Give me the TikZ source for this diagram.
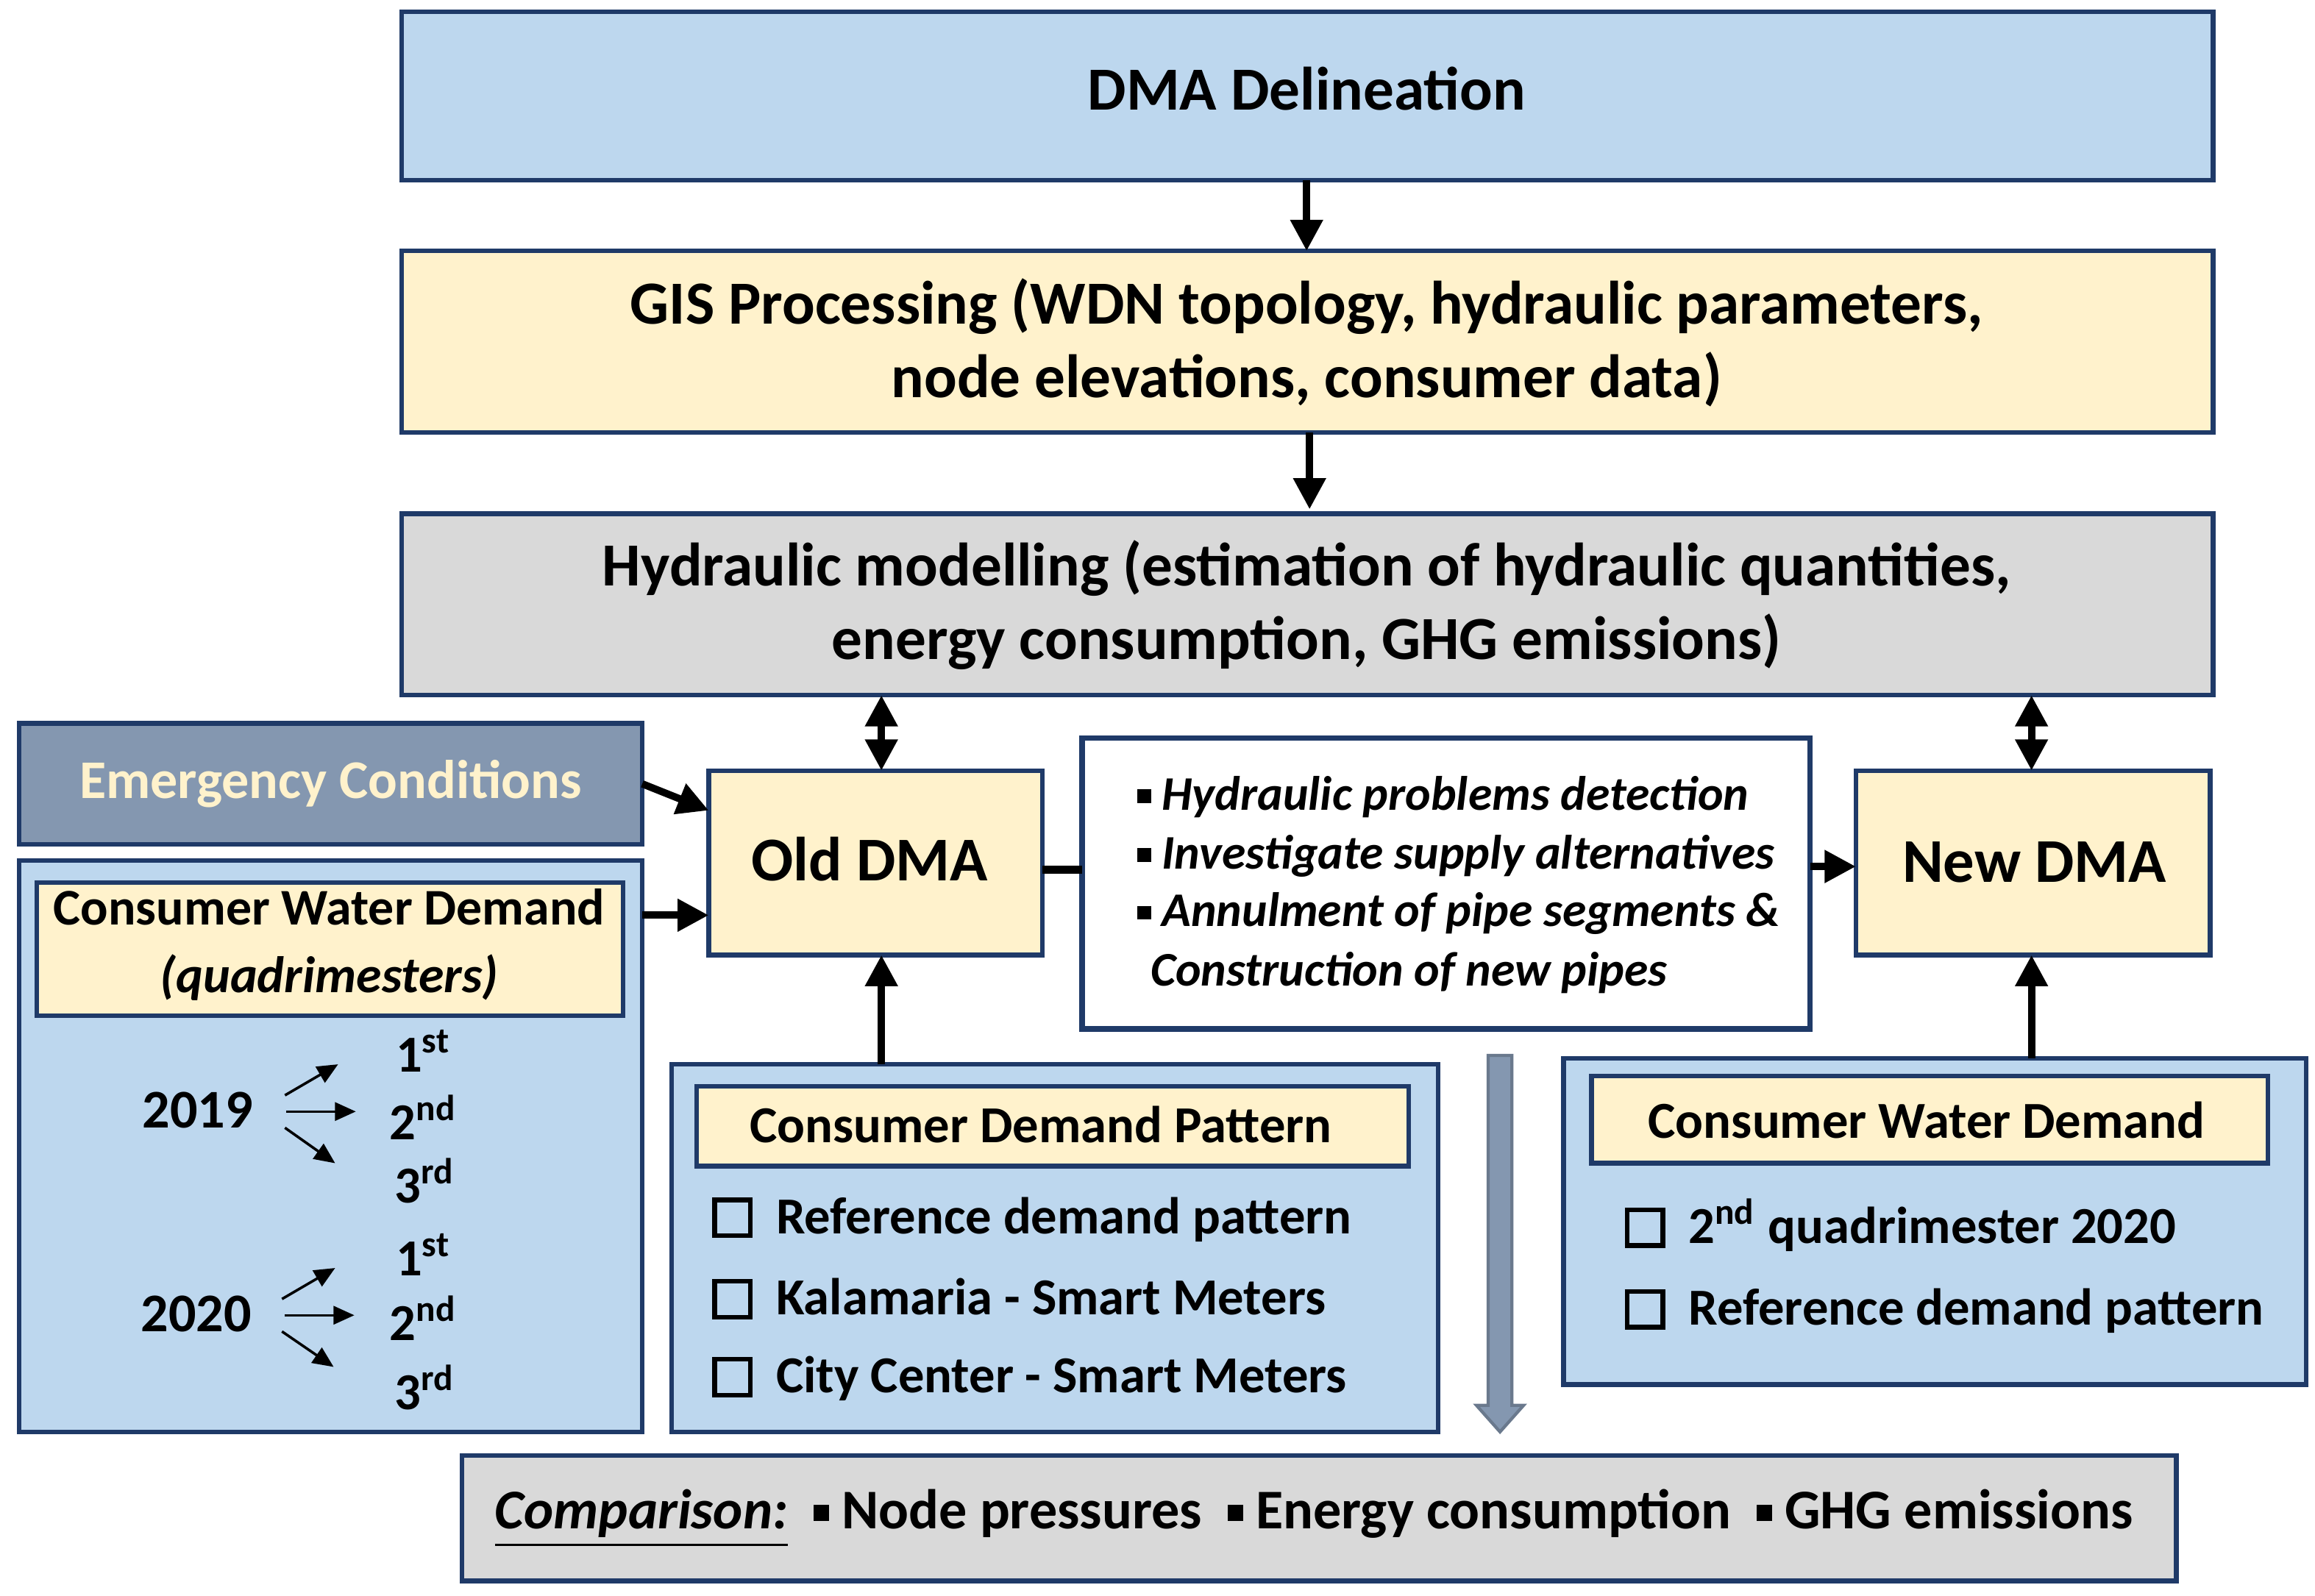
\documentclass[tikz,border=0pt]{standalone}
\usepackage{fontspec}
\setmainfont{Carlito}
\usetikzlibrary{arrows.meta}
\definecolor{nav}{HTML}{1F3A68}
\definecolor{lblue}{HTML}{BDD7EE}
\definecolor{cream}{HTML}{FFF2CC}
\definecolor{gry}{HTML}{D9D9D9}
\definecolor{slate}{HTML}{8497B0}
\newcommand{\sqb}{\rule[0.15em]{0.28em}{0.28em}}
\newcommand{\cbx}{{\setlength{\fboxsep}{0pt}\setlength{\fboxrule}{0.9pt}\fbox{\rule{0pt}{0.6em}\hspace{0.6em}}}}
\begin{document}
\begin{tikzpicture}[x=0.01cm,y=-0.01cm,
 box/.style={draw=nav,line width=0.9pt},
 ar/.style={line width=1.4pt,-{Triangle[length=6pt,width=6pt]}},
 dar/.style={line width=1.4pt,{Triangle[length=6pt,width=6pt]}-{Triangle[length=6pt,width=6pt]}},
 sar/.style={line width=0.5pt,-{Triangle[length=4pt,width=3.5pt]}},
 f10/.style={font=\bfseries\fontsize{10}{12}\selectfont}]
\useasboundingbox (0,0) rectangle (1568,1081);
% boxes
\draw[box,fill=lblue] (272,8) rectangle (1499,122);
\node[font=\bfseries\fontsize{11.8}{14}\selectfont] (dma) at (885,60) {DMA Delineation};
\draw[box,fill=cream] (272,170) rectangle (1499,293);
\node[align=center,font=\bfseries\fontsize{11.8}{14.2}\selectfont] (gis) at (885,232) {GIS Processing (WDN topology, hydraulic parameters,\\node elevations, consumer data)};
\draw[box,fill=gry] (272,348) rectangle (1499,471);
\node[align=center,font=\bfseries\fontsize{11.8}{14.2}\selectfont] (hyd) at (885,410) {Hydraulic modelling (estimation of hydraulic quantities,\\energy consumption, GHG emissions)};
\draw[box,fill=slate] (13,490) rectangle (435,572);
\node[font=\bfseries\fontsize{10.5}{12}\selectfont,text=cream] (em) at (224,531) {Emergency Conditions};
\draw[box,fill=lblue] (13,583) rectangle (435,970);
\draw[box,fill=cream] (25,598) rectangle (422,688);
\node[align=center,font=\fontsize{9.9}{13}\selectfont] (cwd) at (223,640) {\textbf{Consumer Water Demand}\\\textbf{\itshape (quadrimesters)}};
\draw[box,fill=cream] (480,522) rectangle (706,647);
\node[font=\bfseries\fontsize{12}{14}\selectfont] (old) at (589,582) {Old DMA};
\draw[box,line width=1.1pt,fill=white] (733,500) rectangle (1226,697);
\node[font=\bfseries\itshape\fontsize{9.3}{11}\selectfont,anchor=west] (m1) at (758,540) {\sqb\ Hydraulic problems detection};
\node[font=\bfseries\itshape\fontsize{9.3}{11}\selectfont,anchor=west] (m2) at (758,580) {\sqb\ Investigate supply alternatives};
\node[font=\bfseries\itshape\fontsize{9.3}{11}\selectfont,anchor=west] (m3) at (758,619) {\sqb\ Annulment of pipe segments \&};
\node[font=\bfseries\itshape\fontsize{9.3}{11}\selectfont,anchor=west] (m4) at (767,659) {Construction of new pipes};
\draw[box,fill=cream] (1257,522) rectangle (1497,647);
\node[font=\bfseries\fontsize{12}{14}\selectfont] (new) at (1378,584) {New DMA};
% pattern panel
\draw[box,fill=lblue] (455,721) rectangle (974,970);
\draw[box,fill=cream] (472,736) rectangle (954,790);
\node[f10] (cdp) at (705,762) {Consumer Demand Pattern};
\node[f10,anchor=west] (p1) at (470,826) {\cbx\ \ Reference demand pattern};
\node[f10,anchor=west] (p2) at (470,880) {\cbx\ \ Kalamaria - Smart Meters};
\node[f10,anchor=west] (p3) at (470,934) {\cbx\ \ City Center - Smart Meters};
% right panel
\draw[box,fill=lblue] (1059,717) rectangle (1562,938);
\draw[box,fill=cream] (1078,729) rectangle (1536,788);
\node[f10] (cwd2) at (1305,759) {Consumer Water Demand};
\node[f10,anchor=west] (r1) at (1088,830) {\cbx\ \ 2\textsuperscript{nd} quadrimester 2020};
\node[f10,anchor=west] (r2) at (1088,888) {\cbx\ \ Reference demand pattern};
% comparison
\draw[box,fill=gry] (313,986) rectangle (1474,1071);
\node[font=\bfseries\fontsize{10.8}{12}\selectfont] (cmp) at (890,1029) {\textit{\underline{Comparison:}}\ \ \sqb\ Node pressures\ \ \sqb\ Energy consumption\ \ \sqb\ GHG emissions};
% years
\node[font=\bfseries\fontsize{10.5}{12}\selectfont] (y19) at (134,752) {2019};
\node[font=\bfseries\fontsize{10.5}{12}\selectfont] (y20) at (133,890) {2020};
\node[f10] (a1) at (287,712) {1\textsuperscript{st}};
\node[f10] (a2) at (287,757) {2\textsuperscript{nd}};
\node[f10] (a3) at (288,800) {3\textsuperscript{rd}};
\node[f10] (b1) at (287,850) {1\textsuperscript{st}};
\node[f10] (b2) at (287,893) {2\textsuperscript{nd}};
\node[f10] (b3) at (288,940) {3\textsuperscript{rd}};
\draw[sar] (193,742) -- (229,721);
\draw[sar] (194,753) -- (241,753);
\draw[sar] (193,764) -- (227,788);
\draw[sar] (191,880) -- (227,859);
\draw[sar] (193,891) -- (240,891);
\draw[sar] (191,902) -- (226,926);
% connectors
\coordinate (c1) at (885,122); \coordinate (c2) at (885,170);
\draw[ar] (c1) -- (c2);
\coordinate (c3) at (887,293); \coordinate (c4) at (887,345);
\draw[ar] (c3) -- (c4);
\coordinate (h1) at (597,471); \coordinate (o1) at (597,522);
\draw[dar] (h1) -- (o1);
\coordinate (h2) at (1376,471); \coordinate (n1) at (1376,522);
\draw[dar] (h2) -- (n1);
\coordinate (e1) at (435,531); \coordinate (e2) at (480,549);
\draw[ar] (e1) -- (e2);
\coordinate (w1) at (435,620); \coordinate (w2) at (480,620);
\draw[ar] (w1) -- (w2);
\coordinate (o2) at (706,589); \coordinate (m0) at (733,589);
\draw[line width=1.6pt] (o2) -- (m0);
\coordinate (m5) at (1226,587); \coordinate (n2) at (1257,587);
\draw[ar] (m5) -- (n2);
\coordinate (p0) at (597,721); \coordinate (o3) at (597,647);
\draw[ar] (p0) -- (o3);
\coordinate (r0) at (1376,717); \coordinate (n3) at (1376,647);
\draw[ar] (r0) -- (n3);
\coordinate (d1) at (1016,715); \coordinate (d2) at (1016,970);
\draw[draw=slate!80!black,fill=slate,line width=0.6pt] (1008,715) -- (1024,715) -- (1024,952) -- (1032,952) -- (1016,970) -- (1000,952) -- (1008,952) -- cycle;
\end{tikzpicture}
\end{document}
